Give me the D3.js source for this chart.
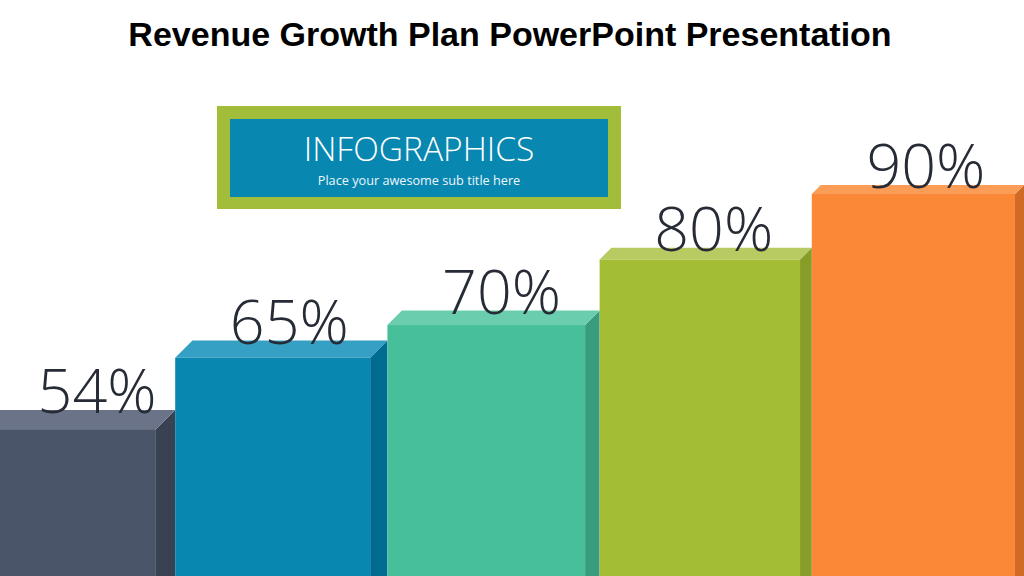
<!DOCTYPE html>
<html lang="en">
<head>
    <meta charset="UTF-8">
    <title>Revenue Growth Plan</title>
    <script src="https://d3js.org/d3.v7.min.js"></script>
    <style>
        html, body { margin: 0; padding: 0; background: #fff; overflow: hidden; }
        .title { font-family: "Liberation Sans", Arial, sans-serif; font-weight: bold; font-size: 34px; fill: #000; }
        .pct { font-family: "Open Sans", "Noto Sans", sans-serif; font-weight: 300; font-size: 61px; fill: #262b36; }
        .info-head { font-family: "Open Sans", "Noto Sans", sans-serif; font-weight: 300; font-size: 33.5px; fill: #fff; }
        .info-sub { font-family: "Open Sans", "Noto Sans", sans-serif; font-size: 12.7px; fill: #eef6fa; }
    </style>
</head>
<body>
    <svg id="chart" width="1024" height="576"></svg>

    <script>
        // values
        const steps = ["Step 1", "Step 2", "Step 3", "Step 4", "Step 5"];
        const values = [54, 65, 70, 80, 90];
        const labels = ["54%", "65%", "70%", "80%", "90%"];

        // front / side / top colours per bar
        const frontColors = ["#4a5569", "#0887b1", "#47bf9a", "#a3bd35", "#fa8836"];
        const sideColors  = ["#394253", "#006c90", "#389c7d", "#869d28", "#cf6b27"];
        const topColors   = ["#6a7387", "#35a0c3", "#6acdae", "#b7cb62", "#fb9d57"];

        const W = 1024, H = 576;
        const svg = d3.select("#chart");

        // title
        svg.append("text").attr("class", "title")
            .attr("x", 510).attr("y", 46)
            .attr("text-anchor", "middle")
            .text("Revenue Growth Plan PowerPoint Presentation");

        // scales
        const x = d3.scaleBand().domain(steps).range([-37, W]).paddingInner(0);
        const y = d3.scaleLinear().domain([31.7, 90]).range([H, 194]);
        const depth = d3.scaleLinear().domain([0, steps.length - 1]).range([20, 9]);

        const bars = svg.append("g").selectAll("g")
            .data(steps.map((s, i) => ({ step: s, value: values[i], label: labels[i], i })))
            .join("g");

        bars.each(function (d) {
            const g = d3.select(this);
            const d0 = depth(d.i);
            const x0 = x(d.step);
            const x1 = x0 + x.bandwidth() - d0;
            const yt = y(d.value);

            // side face
            g.append("polygon")
                .attr("points", [[x1, yt], [x1 + d0, yt - d0], [x1 + d0, H], [x1, H]].join(" "))
                .attr("fill", sideColors[d.i]);
            // top face
            g.append("polygon")
                .attr("points", [[x0, yt], [x0 + d0, yt - d0], [x1 + d0, yt - d0], [x1, yt]].join(" "))
                .attr("fill", topColors[d.i]);
            // front face
            g.append("rect")
                .attr("x", x0).attr("y", yt)
                .attr("width", x1 - x0).attr("height", H - yt)
                .attr("fill", frontColors[d.i]);
            // value label (first bar is cut by the slide edge, so its label sits further right)
            g.append("text").attr("class", "pct")
                .attr("x", Math.max(x0 + x.bandwidth() / 2 + 8, 97))
                .attr("y", yt - d0 + 3)
                .attr("text-anchor", "middle")
                .text(d.label);
        });

        // infographics box
        const box = svg.append("g");
        box.append("rect").attr("x", 217).attr("y", 106).attr("width", 404).attr("height", 103).attr("fill", "#a2bd3a");
        box.append("rect").attr("x", 230).attr("y", 119).attr("width", 378).attr("height", 78).attr("fill", "#0887b1");
        box.append("text").attr("class", "info-head")
            .attr("x", 419).attr("y", 161).attr("text-anchor", "middle")
            .text("INFOGRAPHICS");
        box.append("text").attr("class", "info-sub")
            .attr("x", 419).attr("y", 185).attr("text-anchor", "middle")
            .text("Place your awesome sub title here");
    </script>
</body>
</html>
